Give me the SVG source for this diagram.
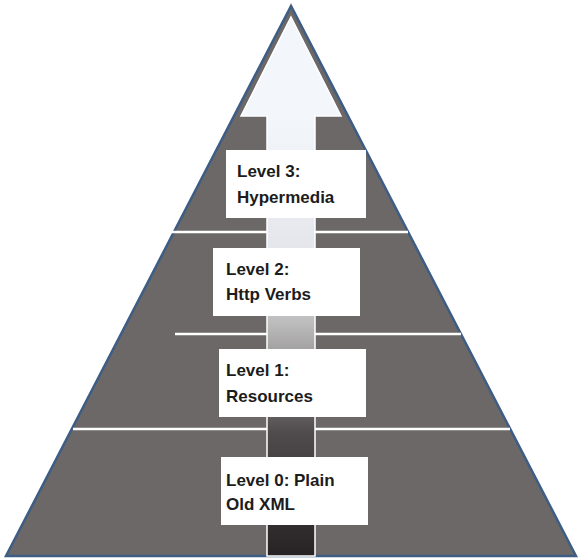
<svg xmlns="http://www.w3.org/2000/svg" width="578" height="559" viewBox="0 0 578 559">
<defs>
<linearGradient id="shaft" x1="0" y1="116" x2="0" y2="557" gradientUnits="userSpaceOnUse">
<stop offset="0" stop-color="#f3f7fc"/>
<stop offset="0.3" stop-color="#e4e6eb"/>
<stop offset="0.47" stop-color="#bdbcbd"/>
<stop offset="0.72" stop-color="#4f4b4c"/>
<stop offset="1" stop-color="#272223"/>
</linearGradient>
<style>
.box{fill:#ffffff;}
.lbl{font-family:"Liberation Sans",Arial,sans-serif;font-size:17px;font-weight:bold;fill:#1c1c1c;}
.sep{stroke:#ffffff;stroke-width:2.5;}
</style>
</defs>
<g id="pyramid">
<polygon points="291,6 6,556 576,556" fill="#6b6867" stroke="#3e5d85" stroke-width="2.5" stroke-linejoin="miter"/>
</g>
<g id="connectors">
<line class="sep" x1="122" y1="232" x2="408" y2="232"/>
<line class="sep" x1="175" y1="334" x2="461" y2="334"/>
<line class="sep" x1="73" y1="429" x2="510" y2="429"/>
<path d="M291,17 L341,116 L315,116 L315,556 L267,556 L267,116 L241,116 Z" fill="url(#shaft)" stroke="#ffffff" stroke-width="1.5" stroke-linejoin="miter"/>
</g>
<g id="level3">
<rect class="box" x="226" y="150" width="140" height="68"/>
<text class="lbl" x="237" y="177">Level 3:</text>
<text class="lbl" x="237" y="203">Hypermedia</text>
</g>
<g id="level2">
<rect class="box" x="213" y="248" width="147" height="68"/>
<text class="lbl" x="226" y="275">Level 2:</text>
<text class="lbl" x="226" y="300">Http Verbs</text>
</g>
<g id="level1">
<rect class="box" x="219" y="349" width="147" height="68"/>
<text class="lbl" x="226" y="376">Level 1:</text>
<text class="lbl" x="226" y="402">Resources</text>
</g>
<g id="level0">
<rect class="box" x="221" y="457" width="147" height="68"/>
<text class="lbl" x="226" y="486">Level 0: Plain</text>
<text class="lbl" x="226" y="510">Old XML</text>
</g>
</svg>
